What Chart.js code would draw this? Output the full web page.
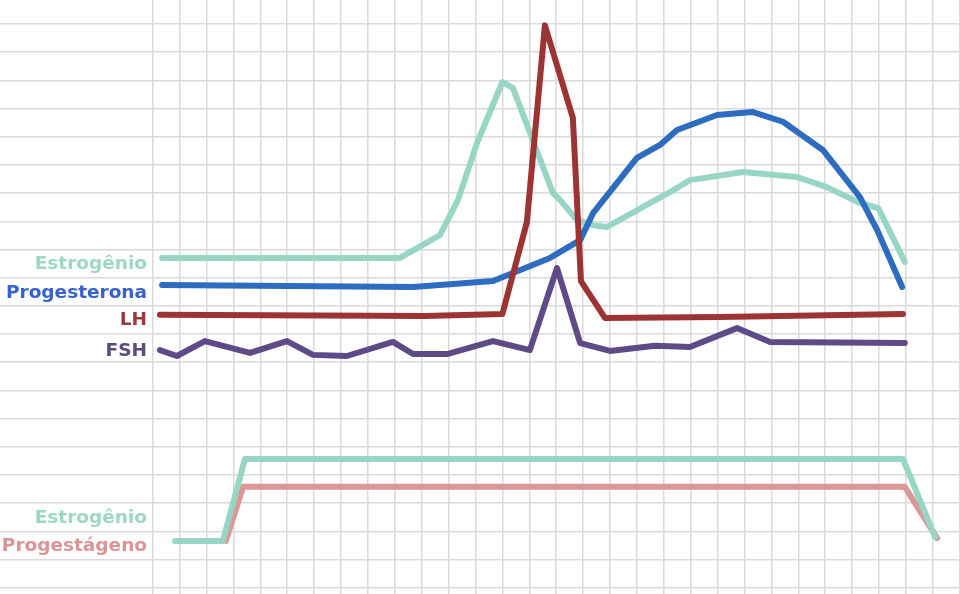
<!DOCTYPE html>
<html>
<head>
<meta charset="utf-8">
<script src="https://cdn.jsdelivr.net/npm/chart.js@4"></script>
<style>
  html, body { margin: 0; padding: 0; background: #ffffff; }
  #c { display: block; background: #ffffff; }
</style>
</head>
<body>
<canvas id="c" width="960" height="594"></canvas>
<script>
// ---- data (x in grid cells, y in grid cells / arbitrary hormone level) ----
const estrogenX = [0.35, 9.19, 10.68, 11.35, 12.06, 13.0, 13.39, 14.88, 15.14, 15.77, 16.37, 16.89, 19.49, 19.97, 21.94, 23.95, 25.06, 26.29, 26.97, 27.96];
const estrogenY = [11.70, 11.70, 12.51, 13.76, 15.78, 17.94, 17.73, 14.00, 13.76, 13.04, 12.86, 12.80, 14.18, 14.46, 14.75, 14.57, 14.21, 13.65, 13.47, 11.56];

const progesteroneX = [0.35, 9.68, 12.65, 14.77, 15.89, 16.37, 18.00, 18.86, 19.49, 20.98, 22.29, 23.43, 24.91, 26.29, 26.93, 27.86];
const progesteroneY = [10.74, 10.67, 10.88, 11.70, 12.33, 13.29, 15.25, 15.71, 16.24, 16.77, 16.88, 16.53, 15.53, 13.86, 12.69, 10.67];

const lhX = [0.27, 10.12, 13.0, 13.91, 14.58, 15.62, 15.92, 16.81, 21.09, 27.89];
const lhY = [9.68, 9.64, 9.71, 12.97, 19.95, 16.67, 10.88, 9.57, 9.60, 9.71];

const fshX = [0.27, 0.90, 1.94, 3.62, 4.99, 5.96, 7.22, 8.93, 9.68, 10.94, 12.65, 14.02, 15.03, 15.89, 17.00, 18.67, 19.97, 21.72, 22.95, 27.96];
const fshY = [8.43, 8.22, 8.75, 8.33, 8.75, 8.26, 8.22, 8.72, 8.29, 8.29, 8.75, 8.43, 11.34, 8.68, 8.40, 8.58, 8.54, 9.21, 8.72, 8.68];

const pillEstrogenX = [0.83, 2.61, 3.43, 27.89, 29.08];
const pillEstrogenY = [1.66, 1.66, 4.57, 4.57, 1.80];

const progestogenX = [2.72, 3.36, 27.96, 29.16];
const progestogenY = [1.66, 3.58, 3.58, 1.76];

const seriesLabels = ["Estrogênio", "Progesterona", "LH", "FSH", "Estrogênio", "Progestágeno"];
const labelY = [11.48, 10.46, 9.50, 8.40, 2.47, 1.48];

const xTicks = Array.from({length: 31}, (_, i) => i);
const yTicks = Array.from({length: 21}, (_, i) => i);

// ---- helpers ----
const pts = (xs, ys) => xs.map((x, i) => ({x: x, y: ys[i]}));
const lineStyle = (color) => ({
  borderColor: color,
  backgroundColor: color,
  borderWidth: 6,
  pointRadius: 0,
  pointHoverRadius: 0,
  tension: 0,
  fill: false,
  borderCapStyle: 'round',
  borderJoinStyle: 'round'
});

const colors = {
  estrogen: '#98d5c5',
  progesterone: '#2d6cbf',
  lh: '#9c3434',
  fsh: '#5d4a86',
  progestogen: '#db9896'
};
const textColors = ['#9fd7c7', '#3562cf', '#9a3a3a', '#5b4c7d', '#9fd7c7', '#d99594'];

const labelPlugin = {
  id: 'sideLabels',
  afterDatasetsDraw(chart) {
    const ctx = chart.ctx;
    const xs = chart.scales.x, ys = chart.scales.y;
    ctx.save();
    ctx.font = 'bold 18.5px "DejaVu Sans", Verdana, sans-serif';
    ctx.textAlign = 'right';
    ctx.textBaseline = 'middle';
    seriesLabels.forEach((t, i) => {
      ctx.fillStyle = textColors[i];
      ctx.fillText(t, xs.getPixelForValue(-0.21), ys.getPixelForValue(labelY[i]));
    });
    ctx.restore();
  }
};

new Chart(document.getElementById('c'), {
  type: 'line',
  data: {
    datasets: [
      Object.assign({label: 'Estrogênio', data: pts(estrogenX, estrogenY), order: 6}, lineStyle(colors.estrogen)),
      Object.assign({label: 'Progesterona', data: pts(progesteroneX, progesteroneY), order: 5}, lineStyle(colors.progesterone)),
      Object.assign({label: 'LH', data: pts(lhX, lhY), order: 3}, lineStyle(colors.lh)),
      Object.assign({label: 'FSH', data: pts(fshX, fshY), order: 4}, lineStyle(colors.fsh)),
      Object.assign({label: 'Progestágeno', data: pts(progestogenX, progestogenY), order: 2}, lineStyle(colors.progestogen)),
      Object.assign({label: 'Estrogênio (pílula)', data: pts(pillEstrogenX, pillEstrogenY), order: 1}, lineStyle(colors.estrogen))
    ]
  },
  options: {
    responsive: false,
    animation: false,
    layout: { padding: 0 },
    plugins: { legend: { display: false }, tooltip: { enabled: false } },
    scales: {
      x: {
        type: 'linear',
        min: -5.675,
        max: 30.01,
        afterBuildTicks: (s) => { s.ticks = xTicks.map(v => ({value: v})); },
        afterFit: (s) => { s.height = 0; },
        ticks: { display: false },
        grid: { color: '#dadada', lineWidth: 1.5, drawTicks: false },
        border: { display: false }
      },
      y: {
        type: 'linear',
        min: -0.2235,
        max: 20.85,
        afterBuildTicks: (s) => { s.ticks = yTicks.map(v => ({value: v})); },
        afterFit: (s) => { s.width = 0; },
        ticks: { display: false },
        grid: { color: '#dadada', lineWidth: 1.5, drawTicks: false },
        border: { display: false }
      }
    }
  },
  plugins: [labelPlugin]
});
</script>
</body>
</html>
